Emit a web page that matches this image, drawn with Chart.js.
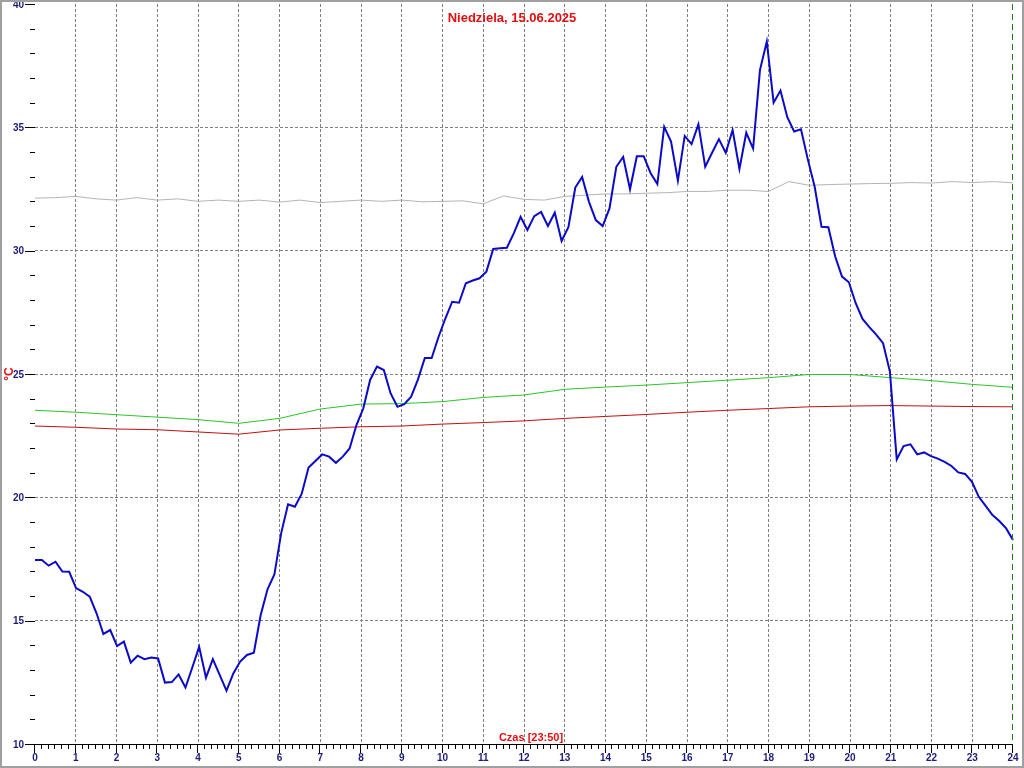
<!DOCTYPE html>
<html lang="pl">
<head>
    <meta charset="UTF-8">
    <title>Niedziela, 15.06.2025</title>
    <script src="https://cdn.jsdelivr.net/npm/chart.js"></script>
    <style>
        html, body { margin: 0; padding: 0; background: #fff; }
        canvas { display: block; }
    </style>
</head>
<body>
    <canvas id="chart" width="1024" height="768"></canvas>
    <script>
        const title = 'Niedziela, 15.06.2025';
        const xTitle = 'Czas [23:50]';
        const yTitle = '°C';

        // 10-minute readings, 00:00 .. 23:50
        const times = [];
        for (let m = 0; m < 1440; m += 10) {
            times.push(String(Math.floor(m / 60)).padStart(2, '0') + ':' + String(m % 60).padStart(2, '0'));
        }

        const outdoor = [
            17.46, 17.46, 17.23, 17.39, 16.99, 16.98, 16.32, 16.17, 15.97, 15.30, 14.46, 14.62,
            13.97, 14.15, 13.30, 13.58, 13.44, 13.51, 13.47, 12.49, 12.51, 12.82, 12.29, 13.10,
            13.94, 12.69, 13.44, 12.80, 12.16, 12.86, 13.34, 13.61, 13.70, 15.23, 16.27, 16.87,
            18.55, 19.72, 19.62, 20.15, 21.21, 21.47, 21.74, 21.65, 21.40, 21.65, 21.98, 22.93,
            23.60, 24.76, 25.30, 25.16, 24.21, 23.67, 23.78, 24.08, 24.78, 25.65, 25.65, 26.50,
            27.25, 27.93, 27.89, 28.68, 28.79, 28.88, 29.15, 30.07, 30.10, 30.12, 30.70, 31.37,
            30.84, 31.40, 31.57, 31.00, 31.54, 30.39, 30.96, 32.56, 32.99, 31.98, 31.24, 31.00,
            31.71, 33.40, 33.80, 32.49, 33.83, 33.83, 33.15, 32.70, 35.02, 34.42, 32.84, 34.65,
            34.32, 35.12, 33.40, 33.97, 34.52, 33.97, 34.89, 33.31, 34.78, 34.14, 37.32, 38.48,
            36.00, 36.49, 35.41, 34.83, 34.92, 33.70, 32.59, 30.97, 30.95, 29.76, 28.95, 28.72,
            27.87, 27.23, 26.90, 26.60, 26.25, 25.10, 21.54, 22.08, 22.15, 21.74, 21.82, 21.67,
            21.57, 21.44, 21.27, 21.01, 20.95, 20.63, 20.02, 19.65, 19.28, 19.04, 18.74, 18.27
        ];

        const hours = [0, 1, 2, 3, 4, 5, 6, 7, 8, 9, 10, 11, 12, 13, 14, 15, 16, 17, 18, 19, 20, 21, 22, 23, 24];
        const green = [
            23.53, 23.45, 23.35, 23.25, 23.15, 23.00, 23.20, 23.58, 23.78, 23.80, 23.88, 24.05,
            24.15, 24.38, 24.47, 24.55, 24.65, 24.75, 24.85, 24.98, 24.98, 24.85, 24.73, 24.58, 24.46
        ];
        const red = [
            22.89, 22.84, 22.77, 22.74, 22.65, 22.56, 22.73, 22.80, 22.86, 22.89, 22.97, 23.03,
            23.10, 23.20, 23.28, 23.36, 23.45, 23.53, 23.60, 23.67, 23.70, 23.72, 23.70, 23.68, 23.67
        ];

        // half-hour readings
        const greyHours = [];
        for (let h = 0; h <= 48; h++) greyHours.push(h / 2);
        const grey = [
            32.13, 32.15, 32.20, 32.10, 32.05, 32.15, 32.05, 32.10, 32.00, 32.05, 32.00, 32.05,
            31.97, 32.05, 31.95, 32.00, 32.05, 32.00, 32.05, 31.98, 32.00, 32.02, 31.90, 32.22,
            32.08, 32.05, 32.20, 32.25, 32.30, 32.30, 32.33, 32.35, 32.40, 32.40, 32.45, 32.45,
            32.40, 32.80, 32.65, 32.68, 32.70, 32.72, 32.73, 32.76, 32.74, 32.80, 32.76, 32.80, 32.75
        ];

        const nowMark = 24;
        const navy = '#1c1c78';
        const labelFont = 'bold 10px "Liberation Sans", Arial, sans-serif';

        const decor = {
            id: 'decor',
            beforeDraw(chart) {
                const ctx = chart.ctx;
                ctx.save();
                ctx.fillStyle = '#fff';
                ctx.fillRect(0, 0, chart.width, chart.height);
                ctx.restore();
            },
            afterDraw(chart) {
                const { ctx, chartArea: a, scales } = chart;
                const x = scales.x, y = scales.y;
                ctx.save();

                // now marker
                const nx = Math.round(x.getPixelForValue(nowMark)) - 0.5;
                ctx.strokeStyle = '#1e7a1e';
                ctx.lineWidth = 1;
                ctx.setLineDash([6, 4]);
                ctx.beginPath();
                ctx.moveTo(nx, a.top);
                ctx.lineTo(nx, a.bottom);
                ctx.stroke();
                ctx.setLineDash([]);

                // x axis line and ticks
                ctx.strokeStyle = '#000';
                ctx.beginPath();
                ctx.moveTo(a.left - 1, a.bottom + 0.5);
                ctx.lineTo(a.right, a.bottom + 0.5);
                for (let m = 0; m <= 1440; m += 10) {
                    const px = Math.round(x.getPixelForValue(m / 60)) - 0.5;
                    const major = m % 60 === 0;
                    ctx.moveTo(px, a.bottom + (major ? 0 : 1));
                    ctx.lineTo(px, a.bottom + (major ? 9 : 5));
                }
                // y ticks
                for (let v = 10; v <= 40; v++) {
                    const py = Math.round(y.getPixelForValue(v)) + 0.5;
                    const major = v % 5 === 0;
                    ctx.moveTo(major ? 25 : 30, py);
                    ctx.lineTo(a.left, py);
                }
                ctx.stroke();

                // labels
                ctx.fillStyle = navy;
                ctx.font = labelFont;
                ctx.textAlign = 'center';
                ctx.textBaseline = 'top';
                for (let h = 0; h <= 24; h++) {
                    ctx.fillText(String(h), x.getPixelForValue(h), a.bottom + 9);
                }
                ctx.textAlign = 'right';
                ctx.textBaseline = 'middle';
                for (let v = 10; v <= 40; v += 5) {
                    ctx.fillText(String(v), 24, y.getPixelForValue(v) + 1);
                }

                // titles
                ctx.fillStyle = '#e01010';
                ctx.font = 'bold 13px "Liberation Sans", Arial, sans-serif';
                ctx.textAlign = 'center';
                ctx.textBaseline = 'middle';
                ctx.fillText(title, 512, 18);
                ctx.font = 'bold 11px "Liberation Sans", Arial, sans-serif';
                ctx.textBaseline = 'alphabetic';
                ctx.fillText(xTitle, 531, 741);
                ctx.save();
                ctx.translate(10, 374);
                ctx.rotate(-Math.PI / 2);
                ctx.font = 'bold 12px "Liberation Sans", Arial, sans-serif';
                ctx.textBaseline = 'middle';
                ctx.fillText(yTitle, 0, 0);
                ctx.restore();

                // frame
                ctx.strokeStyle = '#a0a0a0';
                ctx.lineWidth = 2;
                ctx.strokeRect(1, 1, chart.width - 2, chart.height - 2);
                ctx.restore();
            }
        };

        const ctx = document.getElementById('chart').getContext('2d');
        new Chart(ctx, {
            type: 'line',
            data: {
                labels: times,
                datasets: [
                    {
                        label: 'Temperatura',
                        data: outdoor,
                        xAxisID: 'xt',
                        borderColor: '#0a0ac8',
                        borderWidth: 2,
                        pointRadius: 0,
                        tension: 0
                    },
                    {
                        label: 'green',
                        data: green.map((v, i) => ({ x: hours[i], y: v })),
                        xAxisID: 'x',
                        borderColor: '#28c828',
                        borderWidth: 1,
                        pointRadius: 0
                    },
                    {
                        label: 'red',
                        data: red.map((v, i) => ({ x: hours[i], y: v })),
                        xAxisID: 'x',
                        borderColor: '#c01010',
                        borderWidth: 1,
                        pointRadius: 0
                    },
                    {
                        label: 'grey',
                        data: grey.map((v, i) => ({ x: greyHours[i], y: v })),
                        xAxisID: 'x',
                        borderColor: '#b4b4b4',
                        borderWidth: 1,
                        pointRadius: 0
                    }
                ]
            },
            options: {
                responsive: false,
                animation: false,
                devicePixelRatio: 1,
                layout: { padding: { left: 35, right: 11, top: 4, bottom: 24 } },
                plugins: {
                    legend: { display: false },
                    tooltip: { enabled: false }
                },
                scales: {
                    xt: {
                        type: 'category',
                        display: false,
                        offset: false
                    },
                    x: {
                        type: 'linear',
                        min: 0,
                        max: 24,
                        ticks: { stepSize: 1, display: false },
                        grid: {
                            drawTicks: false,
                            color: c => (c.tick.value > 0 && c.tick.value < 24) ? '#808080' : 'rgba(0,0,0,0)'
                        },
                        border: { display: false, dash: [3, 2] }
                    },
                    y: {
                        min: 10,
                        max: 40,
                        ticks: { stepSize: 5, display: false },
                        grid: {
                            drawTicks: false,
                            color: c => (c.tick.value > 10 && c.tick.value < 40) ? '#808080' : 'rgba(0,0,0,0)'
                        },
                        border: { display: false, dash: [3, 2] }
                    }
                }
            },
            plugins: [decor]
        });
    </script>
</body>
</html>
